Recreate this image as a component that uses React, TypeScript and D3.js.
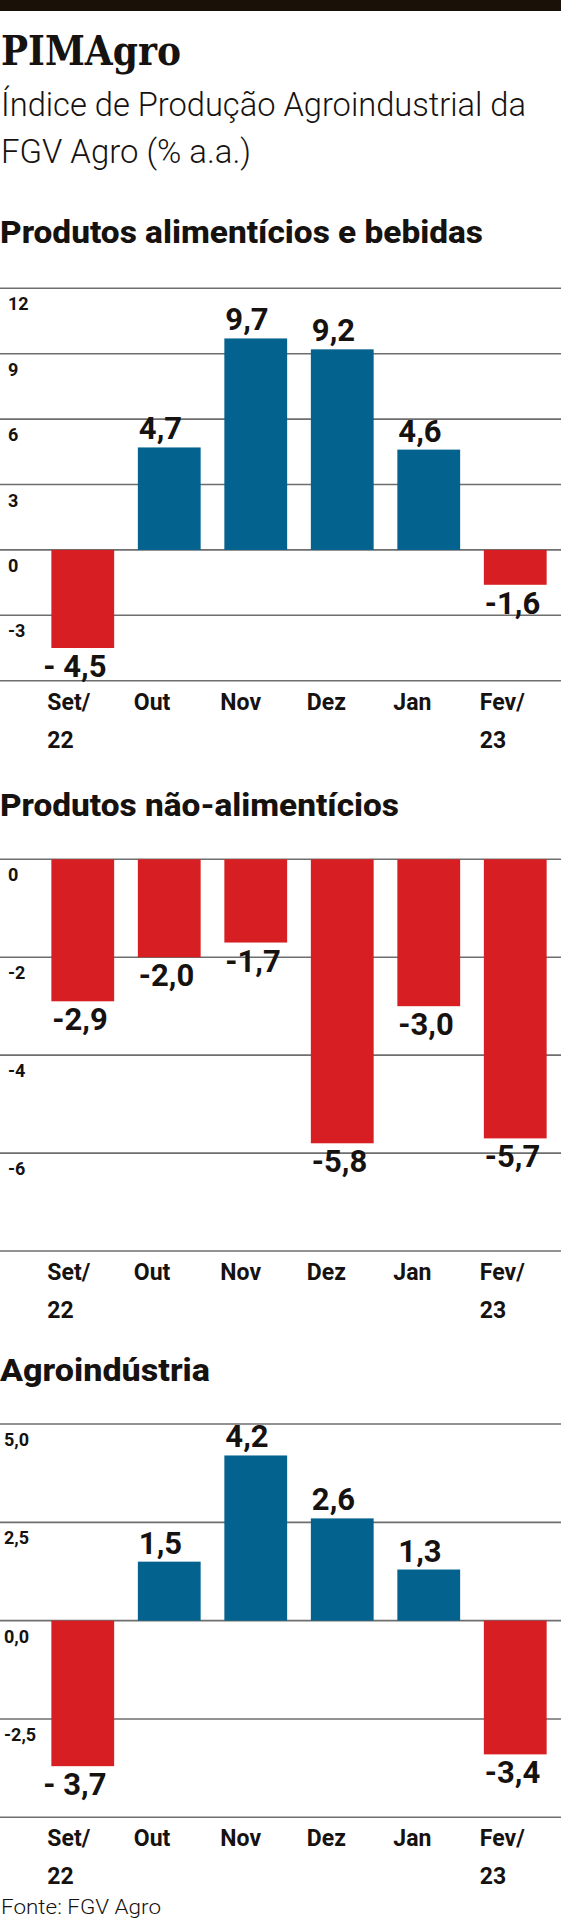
import React from "react";
import * as d3 from "d3";

const monthLabels = ["Set/", "Out", "Nov", "Dez", "Jan", "Fev/"];
const yearLabels = ["22", "", "", "", "", "23"];

const alimenticios = [-4.5, 4.7, 9.7, 9.2, 4.6, -1.6];
const alimenticiosLabels = ["- 4,5", "4,7", "9,7", "9,2", "4,6", "-1,6"];
const alimenticiosTicks = [12, 9, 6, 3, 0, -3];
const alimenticiosTickLabels = ["12", "9", "6", "3", "0", "-3"];

const naoAlimenticios = [-2.9, -2.0, -1.7, -5.8, -3.0, -5.7];
const naoAlimenticiosLabels = ["-2,9", "-2,0", "-1,7", "-5,8", "-3,0", "-5,7"];
const naoAlimenticiosTicks = [0, -2, -4, -6];
const naoAlimenticiosTickLabels = ["0", "-2", "-4", "-6"];

const agroindustria = [-3.7, 1.5, 4.2, 2.6, 1.3, -3.4];
const agroindustriaLabels = ["- 3,7", "1,5", "4,2", "2,6", "1,3", "-3,4"];
const agroindustriaTicks = [5, 2.5, 0, -2.5];
const agroindustriaTickLabels = ["5,0", "2,5", "0,0", "-2,5"];

const WIDTH = 561;
const HEIGHT = 1920;
const BLUE = "#04628f";
const RED = "#d71e22";
const GRID = "#6e6e6e";
const INK = "#161210";
const SANS = "Roboto, 'Noto Sans', sans-serif";

const xScale = d3
  .scaleBand<number>()
  .domain(d3.range(monthLabels.length))
  .range([39.5, 558.5])
  .paddingInner(0.274)
  .paddingOuter(0.137);

type PanelProps = {
  title: string;
  titleY: number;
  titleWidth: number;
  values: number[];
  labels: string[];
  ticks: number[];
  tickLabels: string[];
  domain: [number, number];
  range: [number, number];
  tickX: number;
};

function Panel(p: PanelProps) {
  const y = d3.scaleLinear().domain(p.domain).range(p.range);
  const bottom = y(p.domain[0]);
  const gridValues = [...p.ticks, p.domain[0]];

  return (
    <g>
      <text
        x={0}
        y={p.titleY}
        fontFamily={SANS}
        fontWeight={800}
        fontSize={32}
        fill={INK}
        textLength={p.titleWidth}
        lengthAdjust="spacingAndGlyphs"
      >
        {p.title}
      </text>

      {gridValues.map((v, i) => (
        <line
          key={"g" + i}
          x1={0}
          x2={WIDTH}
          y1={y(v)}
          y2={y(v)}
          stroke={GRID}
          strokeWidth={1.6}
        />
      ))}

      {p.ticks.map((v, i) => (
        <text
          key={"t" + i}
          x={p.tickX}
          y={y(v) + 22}
          fontFamily={SANS}
          fontWeight={700}
          fontSize={18}
          fill={INK}
        >
          {p.tickLabels[i]}
        </text>
      ))}

      {p.values.map((v, i) => {
        const x0 = xScale(i) ?? 0;
        const top = y(Math.max(0, v));
        const h = Math.abs(y(v) - y(0));
        return (
          <rect
            key={"b" + i}
            x={x0}
            y={top}
            width={xScale.bandwidth()}
            height={h}
            fill={v >= 0 ? BLUE : RED}
          />
        );
      })}

      {p.values.map((v, i) => {
        const x0 = xScale(i) ?? 0;
        const label = p.labels[i];
        const shift = label.startsWith("- ") ? -8 : 1;
        return (
          <text
            key={"v" + i}
            x={x0 + shift}
            y={v >= 0 ? y(v) - 8 : y(v) + 29}
            fontFamily={SANS}
            fontWeight={700}
            fontSize={31}
            fill={INK}
          >
            {label}
          </text>
        );
      })}

      {monthLabels.map((m, i) => {
        const x0 = (xScale(i) ?? 0) - 4;
        return (
          <g key={"m" + i}>
            <text
              x={x0}
              y={bottom + 29}
              fontFamily={SANS}
              fontWeight={700}
              fontSize={23}
              fill={INK}
            >
              {m}
            </text>
            {yearLabels[i] && (
              <text
                x={x0}
                y={bottom + 67}
                fontFamily={SANS}
                fontWeight={700}
                fontSize={23}
                fill={INK}
              >
                {yearLabels[i]}
              </text>
            )}
          </g>
        );
      })}
    </g>
  );
}

export default function App() {
  return (
    <svg
      width={WIDTH}
      height={HEIGHT}
      style={{ position: "absolute", left: 0, top: 0, background: "#fff" }}
    >
      <rect x={0} y={0} width={WIDTH} height={HEIGHT} fill="#fff" />
      <rect x={0} y={0} width={WIDTH} height={11} fill="#1a1209" />

      <text
        x={1}
        y={65}
        fontFamily="'DejaVu Serif', serif"
        fontWeight={700}
        fontSize={41}
        fill={INK}
        textLength={180}
        lengthAdjust="spacingAndGlyphs"
      >
        PIMAgro
      </text>
      <text
        x={1}
        y={116}
        fontFamily={SANS}
        fontWeight={300}
        fontSize={34}
        fill={INK}
        textLength={525}
        lengthAdjust="spacingAndGlyphs"
      >
        Índice de Produção Agroindustrial da
      </text>
      <text
        x={1}
        y={163}
        fontFamily={SANS}
        fontWeight={300}
        fontSize={34}
        fill={INK}
        textLength={250}
        lengthAdjust="spacingAndGlyphs"
      >
        FGV Agro (% a.a.)
      </text>

      <Panel
        title="Produtos alimentícios e bebidas"
        titleY={243}
        titleWidth={483}
        values={alimenticios}
        labels={alimenticiosLabels}
        ticks={alimenticiosTicks}
        tickLabels={alimenticiosTickLabels}
        domain={[-6, 12]}
        range={[680.7, 288.3]}
        tickX={8}
      />
      <Panel
        title="Produtos não-alimentícios"
        titleY={816}
        titleWidth={399}
        values={naoAlimenticios}
        labels={naoAlimenticiosLabels}
        ticks={naoAlimenticiosTicks}
        tickLabels={naoAlimenticiosTickLabels}
        domain={[-8, 0]}
        range={[1251, 859.3]}
        tickX={8}
      />
      <Panel
        title="Agroindústria"
        titleY={1381}
        titleWidth={210}
        values={agroindustria}
        labels={agroindustriaLabels}
        ticks={agroindustriaTicks}
        tickLabels={agroindustriaTickLabels}
        domain={[-5, 5]}
        range={[1817.3, 1424]}
        tickX={4}
      />

      <text
        x={1}
        y={1914}
        fontFamily={SANS}
        fontWeight={300}
        fontSize={20}
        fill={INK}
        textLength={160}
        lengthAdjust="spacingAndGlyphs"
      >
        Fonte: FGV Agro
      </text>
    </svg>
  );
}
